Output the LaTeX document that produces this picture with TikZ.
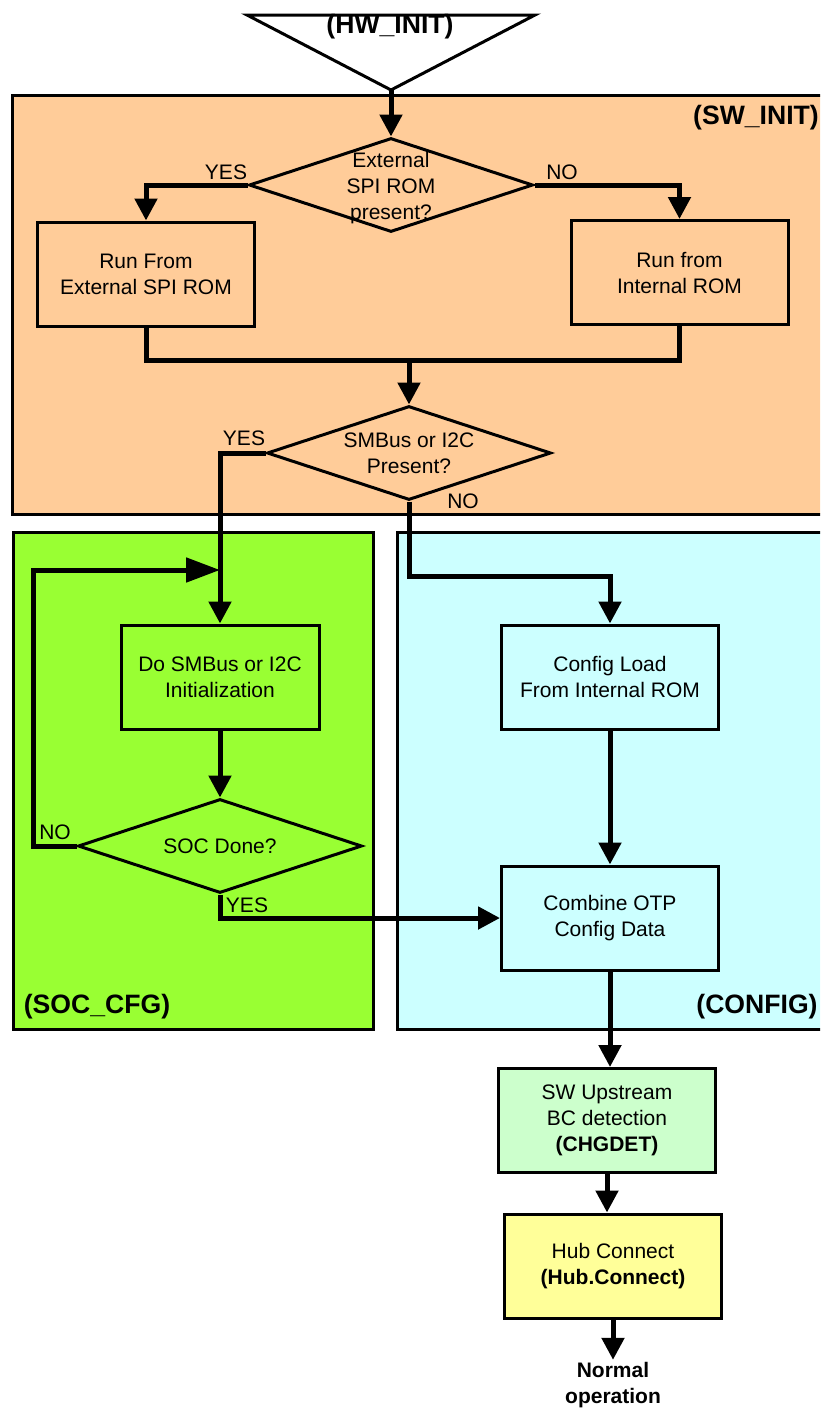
\documentclass[tikz,border=0pt]{standalone}
\usepackage{fontspec}
\setmainfont{Liberation Sans}
\usetikzlibrary{arrows.meta,positioning,shapes.geometric}
\definecolor{swinit}{HTML}{FFCC99}
\definecolor{soccfg}{HTML}{99FF33}
\definecolor{cfgcyan}{HTML}{CCFFFF}
\definecolor{chgdet}{HTML}{CCFFCC}
\definecolor{hubyel}{HTML}{FFFF99}
\newcommand{\nodefont}{\fontsize{10.5}{13}\selectfont}
\newcommand{\tagfont}{\bfseries\fontsize{13.3}{16}\selectfont}
\tikzset{%
	block/.style    = {draw, rectangle, line width=1.5pt, minimum width=108.5pt, minimum height=52pt, align=center, font=\nodefont},
	decision/.style = {draw, diamond, line width=1.5pt, inner sep=0pt, minimum width=142pt, minimum height=47pt},
	region/.style   = {draw, line width=1.5pt},
	tag/.style      = {font=\tagfont, inner sep=0pt}, % region titles
	answer/.style   = {font=\nodefont, inner sep=0pt}, % YES / NO
	flow/.style     = {line width=2.5pt, ->},
	wire/.style     = {line width=2.5pt},
}

\begin{document}
\begin{tikzpicture}[x=0.5pt, y=-0.5pt, >={Triangle[length=11pt,width=11pt]}]
	\useasboundingbox (0,0) rectangle (820,1409);
	\clip (0,0) rectangle (820,1409);
	% regions
	\draw[region, fill=swinit] (12,95) rectangle (830,514);
	\draw[region, fill=soccfg] (13,532) rectangle (373,1029);
	\draw[region, fill=cfgcyan] (397,532) rectangle (830,1029);
	\node[tag] (swlbl) at (756,118) {(SW\_INIT)};
	\node[tag] (soclbl) at (97,1007) {(SOC\_CFG)};
	\node[tag] (cfglbl) at (757,1007) {(CONFIG)};
	% start
	\draw[line width=1.5pt, fill=white] (247,15) -- (535,15) -- (391,90) -- cycle;
	\coordinate (hwtip) at (391,90);
	\node[tag] (hw) at (390,27) {(HW\_INIT)};
	% SW_INIT
	\node[decision, label={[font=\nodefont, align=center, yshift=-1.5pt]center:External\\SPI ROM\\present?}] (rom) at (391,185) {};
	\node[block] (extrun) at (146,274) {Run From\\External SPI ROM};
	\node[block] (intrun) at (679.5,272.5) {Run from\\Internal ROM};
	\node[decision, label={[font=\nodefont, align=center]center:SMBus or I2C\\Present?}] (smb) at (409,453) {};
	% SOC_CFG
	\node[block, minimum width=99pt] (socinit) at (220,677) {Do SMBus or I2C\\Initialization};
	\node[decision, label={[font=\nodefont]center:SOC Done?}] (socdone) at (220,846) {};
	% CONFIG
	\node[block] (cfgload) at (610,677) {Config Load\\From Internal ROM};
	\node[block] (combine) at (610,918) {Combine OTP\\Config Data};
	\node[block, fill=chgdet] (swup) [below of=combine, node distance=101.25pt, xshift=-1.5pt] {SW Upstream\\BC detection\\\textbf{(CHGDET)}};
	\node[block, fill=hubyel] (hub) [below of=swup, node distance=72.75pt, xshift=3pt] {Hub Connect\\\textbf{(Hub.Connect)}};
	\node[font=\bfseries\nodefont, align=center, inner sep=1pt] (normal) [below of=hub, node distance=59.5pt] {Normal\\operation};
	% YES / NO
	\node[answer] (yes1) at (226,172) {YES};
	\node[answer] (no1) at (562,172) {NO};
	\node[answer] (yes2) at (244,438) {YES};
	\node[answer] (no2) at (463,501) {NO};
	\node[answer] (no3) at (55,832) {NO};
	\node[answer] (yes3) at (247,905) {YES};
	% connectors
	\draw[flow] (hwtip) -- (rom.north);
	\draw[flow] (rom.west) -| (extrun.north);
	\draw[flow] (rom.east) -| (intrun.north);
	\coordinate (join) at (409,360);
	\draw[wire] (extrun.south) |- (join) -| (intrun.south);
	\draw[flow] (join) -- (smb.north);
	\draw[flow] (smb.west) -| (socinit.north);
	\draw[flow] (smb.south) -- ++(0,75) -| (cfgload.north);
	\draw[flow] (socinit.south) -- (socdone.north);
	\coordinate (loop) at (220,570);
	\draw[flow, -{Triangle[length=17pt,width=12pt]}] (socdone.west) -- ++(-43,0) |- (loop);
	\draw[flow] (socdone.south) |- (combine.west);
	\draw[flow] (cfgload.south) -- (combine.north);
	\draw[flow] (combine.south) -- (combine.south |- swup.north);
	\draw[flow] (swup.south) -- (swup.south |- hub.north);
	\draw[flow] (hub.south) -- (normal.north);
\end{tikzpicture}
\end{document}
